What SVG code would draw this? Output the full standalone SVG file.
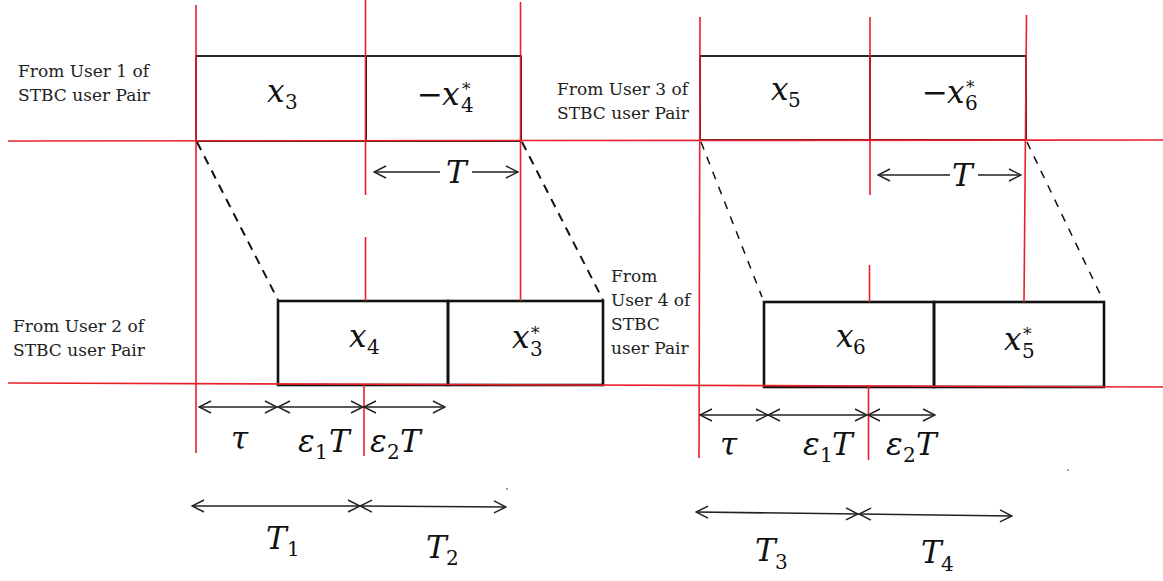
<svg xmlns="http://www.w3.org/2000/svg" width="1163" height="581" viewBox="0 0 1163 581">
<style>
.bg{fill:#fff}
.red{stroke:#e8202a;stroke-width:1.6;fill:none}
.box{fill:none;stroke:#111;stroke-width:1.8}
.box2{fill:none;stroke:#111;stroke-width:2.6}
.dash{stroke:#111;stroke-width:2;stroke-dasharray:9 7;fill:none}
.dash2{stroke:#111;stroke-width:1.5;stroke-dasharray:8 8;fill:none}
.arr{stroke:#222;stroke-width:1.6;fill:none}
.lbl{font-family:'DejaVu Serif',serif;font-size:17px;fill:#222}
.m{font-family:'DejaVu Serif',serif;font-size:31px;fill:#111}
.i{font-style:italic}
.n{font-style:normal}
.s{font-size:20px;font-style:normal}
.p{font-size:17px;font-style:normal}
</style>
<defs>
<marker id="oh" viewBox="0 0 14 14" refX="13" refY="7" markerWidth="14" markerHeight="14" markerUnits="userSpaceOnUse" orient="auto-start-reverse">
<path d="M1,1 L13,7 L1,13" fill="none" stroke="#222" stroke-width="1.5"/>
</marker>
</defs>
<rect class="bg" x="0" y="0" width="1163" height="581"/>

<g id="box-user1">
<rect class="box" x="196" y="56" width="170" height="85"/>
<rect class="box" x="366" y="56" width="155" height="85"/>
<text class="m i" x="267" y="102">x<tspan class="s" x="285" y="109">3</tspan></text>
<text class="m i"><tspan class="n" x="417" y="105">−</tspan><tspan x="442" y="105">x</tspan><tspan class="s" x="461" y="112">4</tspan><tspan class="p" x="462" y="95">*</tspan></text>
</g>
<g id="box-user3">
<rect class="box" x="700" y="56" width="170" height="84"/>
<rect class="box" x="870" y="56" width="156" height="84"/>
<text class="m i" x="771" y="100">x<tspan class="s" x="788" y="107">5</tspan></text>
<text class="m i"><tspan class="n" x="922" y="103">−</tspan><tspan x="947" y="103">x</tspan><tspan class="s" x="965" y="110">6</tspan><tspan class="p" x="966" y="93">*</tspan></text>
</g>
<g id="box-user2">
<rect class="box2" x="278" y="301" width="170" height="84"/>
<rect class="box2" x="448" y="301" width="155" height="84"/>
<text class="m i" x="349" y="347">x<tspan class="s" x="367" y="354">4</tspan></text>
<text class="m i" x="512" y="348">x<tspan class="s" x="530" y="356">3</tspan><tspan class="p" x="531" y="339">*</tspan></text>
</g>
<g id="box-user4">
<rect class="box2" x="764" y="302" width="170" height="85"/>
<rect class="box2" x="934" y="302" width="170" height="85"/>
<text class="m i" x="836" y="347">x<tspan class="s" x="853" y="354">6</tspan></text>
<text class="m i" x="1004" y="350">x<tspan class="s" x="1022" y="358">5</tspan><tspan class="p" x="1023" y="340">*</tspan></text>
</g>

<g id="grid">
<line class="red" x1="8" y1="141" x2="1163" y2="140"/>
<line class="red" x1="8" y1="383" x2="1163" y2="387"/>
<line class="red" x1="196" y1="5" x2="196" y2="453"/>
<line class="red" x1="365.5" y1="0" x2="365.5" y2="195"/>
<line class="red" x1="365.5" y1="237" x2="365.5" y2="301"/>
<line class="red" x1="364" y1="385" x2="364" y2="456"/>
<line class="red" x1="520.5" y1="2" x2="520.5" y2="301"/>
<line class="red" x1="700" y1="17" x2="699" y2="458"/>
<line class="red" x1="870" y1="17" x2="870" y2="195"/>
<line class="red" x1="869.5" y1="265" x2="869.5" y2="302"/>
<line class="red" x1="868.5" y1="387" x2="868.5" y2="460"/>
<line class="red" x1="1026.5" y1="15" x2="1024" y2="302"/>
</g>

<g id="labels">
<text class="lbl" x="18" y="77">From User 1 of</text>
<text class="lbl" x="18" y="101">STBC user Pair</text>
<text class="lbl" x="557" y="95">From User 3 of</text>
<text class="lbl" x="557" y="119">STBC user Pair</text>
<text class="lbl" x="13" y="332">From User 2 of</text>
<text class="lbl" x="13" y="356">STBC user Pair</text>
<text class="lbl" x="611" y="282">From</text>
<text class="lbl" x="611" y="306">User 4 of</text>
<text class="lbl" x="611" y="330">STBC</text>
<text class="lbl" x="611" y="354">user Pair</text>
</g>

<g id="connectors">
<line class="dash" x1="197" y1="142" x2="278" y2="300"/>
<line class="dash" x1="522" y1="142" x2="603" y2="300"/>
<line class="dash2" x1="701" y1="142" x2="762" y2="297"/>
<line class="dash2" x1="1027" y1="142" x2="1103" y2="300"/>
<line class="arr" x1="440" y1="172" x2="374" y2="172" marker-end="url(#oh)"/>
<line class="arr" x1="472" y1="172" x2="518" y2="172" marker-end="url(#oh)"/>
<line class="arr" x1="950" y1="175" x2="878" y2="175" marker-end="url(#oh)"/>
<line class="arr" x1="978" y1="175" x2="1021" y2="175" marker-end="url(#oh)"/>
<line class="arr" x1="199" y1="407" x2="277" y2="407" marker-start="url(#oh)" marker-end="url(#oh)"/>
<line class="arr" x1="278" y1="407" x2="363" y2="407" marker-start="url(#oh)" marker-end="url(#oh)"/>
<line class="arr" x1="364" y1="407" x2="445" y2="407" marker-start="url(#oh)" marker-end="url(#oh)"/>
<line class="arr" x1="192" y1="506" x2="360" y2="506" marker-start="url(#oh)" marker-end="url(#oh)"/>
<line class="arr" x1="360" y1="506" x2="506" y2="507" marker-start="url(#oh)" marker-end="url(#oh)"/>
<line class="arr" x1="700" y1="415" x2="768" y2="415" marker-start="url(#oh)" marker-end="url(#oh)"/>
<line class="arr" x1="768" y1="415" x2="867" y2="415" marker-start="url(#oh)" marker-end="url(#oh)"/>
<line class="arr" x1="868" y1="415" x2="935" y2="415" marker-start="url(#oh)" marker-end="url(#oh)"/>
<line class="arr" x1="696" y1="512" x2="858" y2="514" marker-start="url(#oh)" marker-end="url(#oh)"/>
<line class="arr" x1="859" y1="514" x2="1012" y2="516" marker-start="url(#oh)" marker-end="url(#oh)"/>
</g>

<g id="dim-labels">
<text class="m i" x="446" y="183">T</text>
<text class="m i" x="952" y="186">T</text>
<text class="m i" x="231" y="449">τ</text>
<text class="m i" x="298" y="452">ε<tspan class="s" x="315" y="459">1</tspan><tspan x="329" y="452">T</tspan></text>
<text class="m i" x="370" y="452">ε<tspan class="s" x="387" y="459">2</tspan><tspan x="400" y="452">T</tspan></text>
<text class="m i" x="266" y="549">T<tspan class="s" x="287" y="556">1</tspan></text>
<text class="m i" x="426" y="558">T<tspan class="s" x="446" y="565">2</tspan></text>
<text class="m i" x="720" y="455">τ</text>
<text class="m i" x="803" y="455">ε<tspan class="s" x="820" y="462">1</tspan><tspan x="832" y="455">T</tspan></text>
<text class="m i" x="886" y="455">ε<tspan class="s" x="903" y="462">2</tspan><tspan x="916" y="455">T</tspan></text>
<text class="m i" x="755" y="561">T<tspan class="s" x="775" y="569">3</tspan></text>
<text class="m i" x="921" y="563">T<tspan class="s" x="941" y="571">4</tspan></text>
</g>
<circle cx="507" cy="489" r="0.9" fill="#777"/>
<circle cx="1068" cy="470" r="0.9" fill="#777"/>
</svg>
